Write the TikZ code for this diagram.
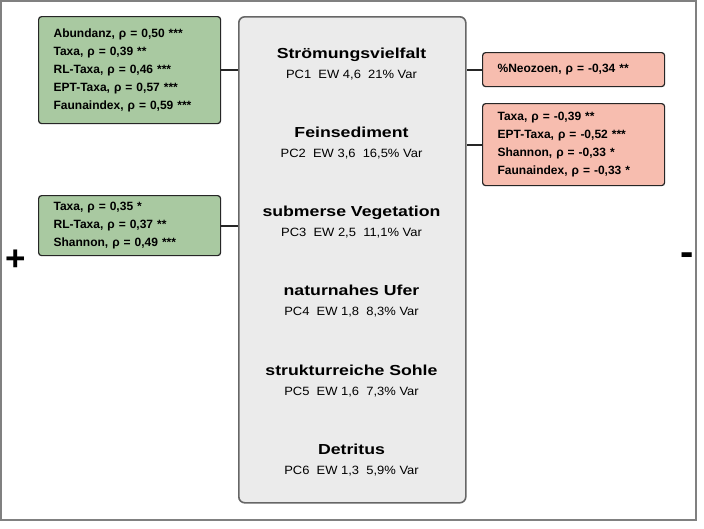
\documentclass[tikz,border=0pt]{standalone}
\usepackage{fontspec}
\setmainfont{Liberation Sans}
\newfontfamily\widefont[FakeStretch=1.22]{Liberation Sans}
\newfontfamily\pcfont[FakeStretch=1.08]{Liberation Sans}
\usepackage{color}
\usepackage{tikz}
\usetikzlibrary{positioning}
\definecolor{posgreen}{RGB}{169,201,161}
\definecolor{negred}{RGB}{247,189,175}
\definecolor{boxgray}{RGB}{235,235,235}
\definecolor{framegray}{RGB}{128,128,128}
\tikzset{node distance=20pt, auto,
	corr/.style={draw=black!85, line width=1.2pt, rounded corners=3pt, anchor=north west,
		align=left, text width=152pt, inner xsep=15pt, inner ysep=0pt,
		font=\bfseries\fontsize{12}{18}\selectfont},
	mainbox/.style={draw=black!60, fill=boxgray, line width=1.6pt, rounded corners=6pt,
		anchor=north west, inner sep=0pt},
	pctitle/.style={inner sep=0pt, text height=10.4pt, text depth=0pt,
		font=\widefont\bfseries\fontsize{14.5}{17}\selectfont},
	pcinfo/.style={inner sep=0pt, text height=8.6pt, text depth=0pt,
		font=\pcfont\fontsize{12}{14}\selectfont},
	sign/.style={inner sep=0pt, font=\bfseries\fontsize{35}{35}\selectfont},
	link/.style={draw=black!85, line width=2pt}}

\begin{document}
\begin{tikzpicture}[x=1pt, y=-1pt]
		\useasboundingbox (0,0) rectangle (704,528);
		\fill[white] (0,0) rectangle (704,528);
		\draw[framegray, line width=1.5pt] (1,1) rectangle (696,520);
		% central box with the six components
		\node(M)[mainbox, minimum width=227pt, minimum height=486pt] at (238,16){};
		\node(T1)[pctitle] at (351.5,53){Strömungsvielfalt};
		\node(I1)[pcinfo, below of=T1, node distance=21pt]{PC1~~EW 4,6~~21\% Var};
		\node(T2)[pctitle, below of=T1, node distance=79.2pt]{Feinsediment};
		\node(I2)[pcinfo, below of=T2, node distance=21pt]{PC2~~EW 3,6~~16,5\% Var};
		\node(T3)[pctitle, below of=T2, node distance=79.2pt]{submerse Vegetation};
		\node(I3)[pcinfo, below of=T3, node distance=21pt]{PC3~~EW 2,5~~11,1\% Var};
		\node(T4)[pctitle, below of=T3, node distance=79.2pt]{naturnahes Ufer};
		\node(I4)[pcinfo, below of=T4, node distance=21pt]{PC4~~EW 1,8~~8,3\% Var};
		\node(T5)[pctitle, below of=T4, node distance=79.2pt]{strukturreiche Sohle};
		\node(I5)[pcinfo, below of=T5, node distance=21pt]{PC5~~EW 1,6~~7,3\% Var};
		\node(T6)[pctitle, below of=T5, node distance=79.2pt]{Detritus};
		\node(I6)[pcinfo, below of=T6, node distance=21pt]{PC6~~EW 1,3~~5,9\% Var};
		% correlations
		\node(G1)[corr, fill=posgreen, minimum height=107pt] at (38,16){Abundanz, ρ = 0,50 ***\\Taxa, ρ = 0,39 **\\RL-Taxa, ρ = 0,46 ***\\EPT-Taxa, ρ = 0,57 ***\\Faunaindex, ρ = 0,59 ***};
		\node(G2)[corr, fill=posgreen, minimum height=60pt] at (38,195){Taxa, ρ = 0,35 *\\RL-Taxa, ρ = 0,37 **\\Shannon, ρ = 0,49 ***};
		\node(R1)[corr, fill=negred, minimum height=34pt] at (482,52){\%Neozoen, ρ = -0,34 **};
		\node(R2)[corr, fill=negred, minimum height=82pt] at (482,103){Taxa, ρ = -0,39 **\\EPT-Taxa, ρ = -0,52 ***\\Shannon, ρ = -0,33 *\\Faunaindex, ρ = -0,33 *};
		\draw[link](G1) to (G1 -| M.west);
		\draw[link](G2) to (G2 -| M.west);
		\draw[link](R1) to (R1 -| M.east);
		\draw[link](R2) to (R2 -| M.east);
		\node(P)[sign] at (16,260){+};
		\node(N)[sign, font=\bfseries\fontsize{40}{40}\selectfont] at (687.5,259){-};
	\end{tikzpicture}
\end{document}
